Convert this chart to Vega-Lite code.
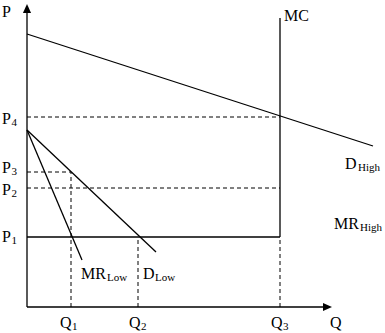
{
  "$schema": "https://vega.github.io/schema/vega-lite/v6.json",
  "width": 385,
  "height": 333,
  "padding": 0,
  "autosize": {"type": "none"},
  "background": "white",
  "config": {"view": {"stroke": null}},
  "datasets": {
    "solid": [
      {"name": "yaxis", "q": 0, "p": 0, "q2": 0, "p2": 296},
      {"name": "xaxis", "q": 0, "p": 0, "q2": 298, "p2": 0},
      {"name": "DHigh", "q": 0, "p": 273, "q2": 346, "p2": 161},
      {"name": "MC", "q": 253, "p": 70, "q2": 253, "p2": 289},
      {"name": "MRHigh", "q": 0, "p": 70, "q2": 253, "p2": 70},
      {"name": "MRLow", "q": 0, "p": 177, "q2": 55, "p2": 47},
      {"name": "DLow", "q": 0, "p": 177, "q2": 129, "p2": 55}
    ],
    "dashed": [
      {"name": "P4", "q": 0, "p": 190, "q2": 253, "p2": 190},
      {"name": "P2", "q": 0, "p": 119, "q2": 253, "p2": 119},
      {"name": "P3", "q": 0, "p": 135, "q2": 44, "p2": 135},
      {"name": "Q1", "q": 44, "p": 0, "q2": 44, "p2": 135},
      {"name": "Q2", "q": 111, "p": 0, "q2": 111, "p2": 70},
      {"name": "Q3", "q": 253, "p": 0, "q2": 253, "p2": 70}
    ],
    "arrowUp": [{"q": 0, "p": 298.5}],
    "arrowRight": [{"q": 300.5, "p": 0}],
    "labels": [
      {"t": "P", "q": -25, "p": 290},
      {"t": "P", "q": -25, "p": 183},
      {"t": "P", "q": -25, "p": 134},
      {"t": "P", "q": -25, "p": 112},
      {"t": "P", "q": -25, "p": 65},
      {"t": "MR", "q": 54, "p": 28},
      {"t": "D", "q": 116, "p": 28},
      {"t": "Q", "q": 33, "p": -21},
      {"t": "Q", "q": 102, "p": -21},
      {"t": "Q", "q": 244, "p": -21},
      {"t": "Q", "q": 303, "p": -21},
      {"t": "MC", "q": 257, "p": 286},
      {"t": "D", "q": 318, "p": 138},
      {"t": "MR", "q": 307, "p": 78}
    ],
    "subs": [
      {"t": "4", "q": -15.5, "p": 181},
      {"t": "3", "q": -15.5, "p": 132},
      {"t": "2", "q": -15.5, "p": 110},
      {"t": "1", "q": -15.5, "p": 63},
      {"t": "Low", "q": 80, "p": 26},
      {"t": "Low", "q": 128, "p": 26},
      {"t": "1", "q": 45, "p": -23},
      {"t": "2", "q": 114, "p": -23},
      {"t": "3", "q": 256, "p": -23},
      {"t": "High", "q": 331, "p": 136},
      {"t": "High", "q": 333, "p": 76}
    ]
  },
  "layer": [
    {
      "data": {"name": "dashed"},
      "mark": {"type": "rule", "color": "black", "strokeWidth": 1, "strokeDash": [4, 3]},
      "encoding": {
        "x": {"field": "q", "type": "quantitative", "scale": {"domain": [-27, 358], "range": [0, 385], "nice": false, "zero": false}, "axis": null},
        "y": {"field": "p", "type": "quantitative", "scale": {"domain": [-26, 307], "range": [333, 0], "nice": false, "zero": false}, "axis": null},
        "x2": {"field": "q2"},
        "y2": {"field": "p2"}
      }
    },
    {
      "data": {"name": "solid"},
      "mark": {"type": "rule", "color": "black", "strokeWidth": 1.3},
      "encoding": {
        "x": {"field": "q", "type": "quantitative", "scale": {"domain": [-27, 358], "range": [0, 385], "nice": false, "zero": false}, "axis": null},
        "y": {"field": "p", "type": "quantitative", "scale": {"domain": [-26, 307], "range": [333, 0], "nice": false, "zero": false}, "axis": null},
        "x2": {"field": "q2"},
        "y2": {"field": "p2"}
      }
    },
    {
      "data": {"name": "arrowUp"},
      "mark": {"type": "point", "shape": "M0,-1L0.9,1L-0.9,1Z", "size": 81, "filled": true, "color": "black", "opacity": 1},
      "encoding": {
        "x": {"field": "q", "type": "quantitative"},
        "y": {"field": "p", "type": "quantitative"}
      }
    },
    {
      "data": {"name": "arrowRight"},
      "mark": {"type": "point", "shape": "M1,0L-1,0.9L-1,-0.9Z", "size": 81, "filled": true, "color": "black", "opacity": 1},
      "encoding": {
        "x": {"field": "q", "type": "quantitative"},
        "y": {"field": "p", "type": "quantitative"}
      }
    },
    {
      "data": {"name": "labels"},
      "mark": {"type": "text", "font": "'Liberation Serif', 'DejaVu Serif', serif", "fontSize": 16, "align": "left", "baseline": "alphabetic", "color": "black"},
      "encoding": {
        "x": {"field": "q", "type": "quantitative"},
        "y": {"field": "p", "type": "quantitative"},
        "text": {"field": "t"}
      }
    },
    {
      "data": {"name": "subs"},
      "mark": {"type": "text", "font": "'Liberation Serif', 'DejaVu Serif', serif", "fontSize": 11, "align": "left", "baseline": "alphabetic", "color": "black"},
      "encoding": {
        "x": {"field": "q", "type": "quantitative"},
        "y": {"field": "p", "type": "quantitative"},
        "text": {"field": "t"}
      }
    }
  ]
}
